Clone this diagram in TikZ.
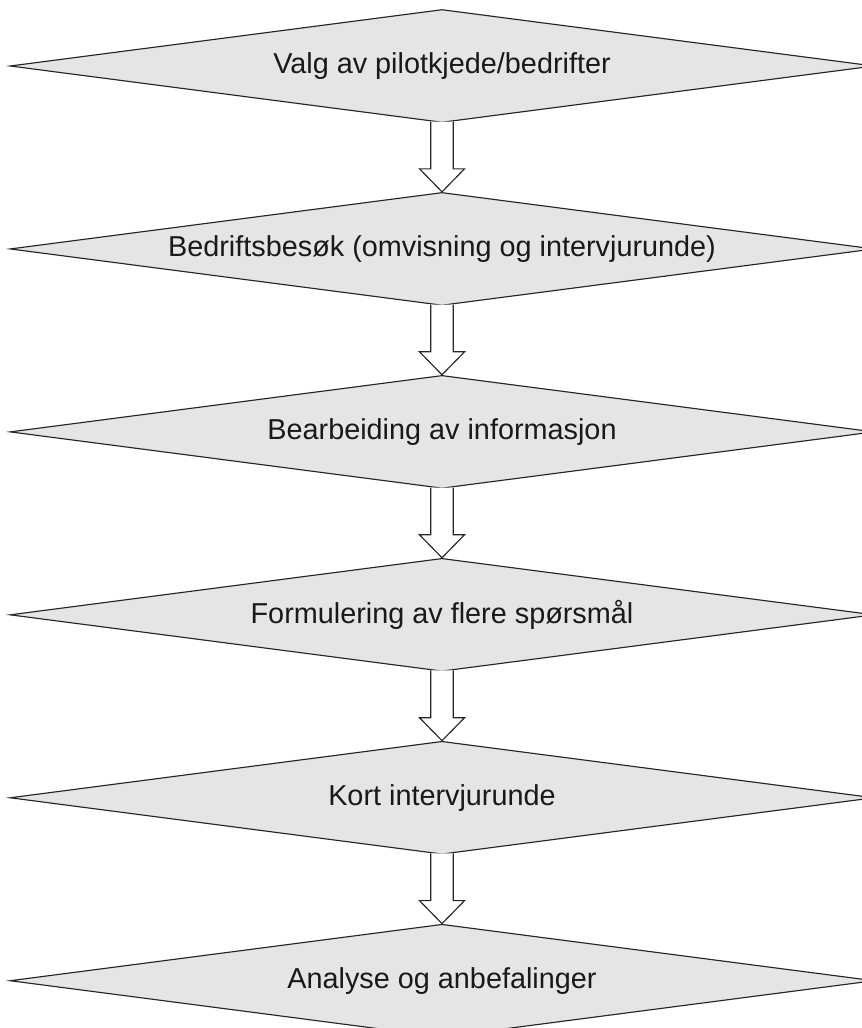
\documentclass[tikz,border=0pt]{standalone}
\usepackage{fontspec}
\setmainfont{Liberation Sans}
\usetikzlibrary{shapes.geometric,positioning,calc}

\begin{document}
\begin{tikzpicture}[
    stepdiamond/.style={diamond,draw=black!85,line width=0.65pt,fill=gray!20,
      inner sep=0pt,minimum width=17.28cm,minimum height=2.26cm,aspect=7.6,
      font=\fontsize{16.4}{19.7}\selectfont,text=black!90},
    blockarrow/.style={draw=black!85,line width=0.65pt,fill=white,line join=miter},
    node distance=1.376cm]
  \useasboundingbox (0,0) rectangle (17.24,-20.56);

  % Steps
  \node[stepdiamond] (valg) at (8.84,-1.32) {Valg av pilotkjede/bedrifter};
  \node[stepdiamond,below=of valg] (besok) {Bedriftsbesøk (omvisning og intervjurunde)};
  \node[stepdiamond,below=of besok] (bearbeiding) {Bearbeiding av informasjon};
  \node[stepdiamond,below=of bearbeiding] (formulering) {Formulering av flere spørsmål};
  \node[stepdiamond,below=of formulering] (kort) {Kort intervjurunde};
  \node[stepdiamond,below=of kort] (analyse) {Analyse og anbefalinger};

  % Arrows. Shaft from the bottom corner, head ends at the next top corner.
  \foreach \a/\b in {valg/besok,besok/bearbeiding,bearbeiding/formulering,
      formulering/kort,kort/analyse}
    \draw[blockarrow] (\a.south) ++(-0.225,0.029) -- ($(\b.north)+(-0.225,0.46)$)
      -- ++(-0.225,0) -- (\b.north) -- ++(0.45,0.46) -- ++(-0.225,0)
      -- ($(\a.south)+(0.225,0.029)$);
\end{tikzpicture}
\end{document}
